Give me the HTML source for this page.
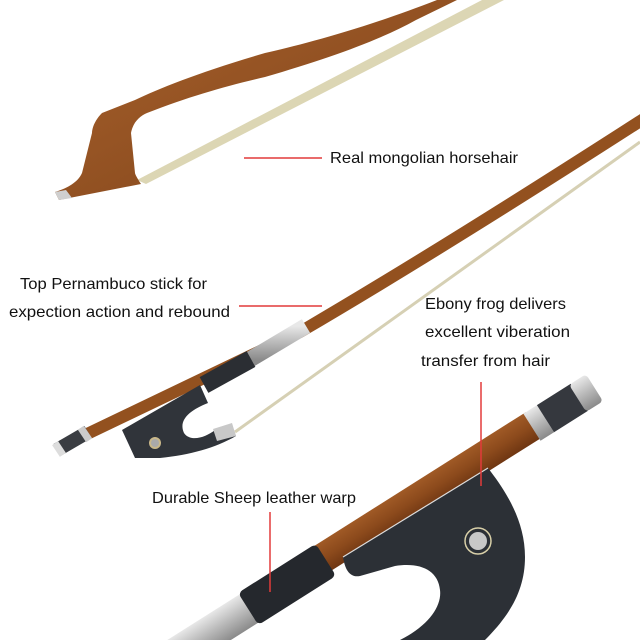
<!DOCTYPE html>
<html><head><meta charset="utf-8"><style>
html,body{margin:0;padding:0;background:#fff;width:640px;height:640px;overflow:hidden}
svg{display:block}
text{font-family:"Liberation Sans",sans-serif;font-size:16px;fill:#111}
</style></head><body>
<svg width="640" height="640" viewBox="0 0 640 640" xmlns="http://www.w3.org/2000/svg">
<defs>
<linearGradient id="wood" x1="0" y1="0" x2="1" y2="1">
<stop offset="0" stop-color="#a8612c"/><stop offset="1" stop-color="#7d4219"/></linearGradient>
<linearGradient id="silv" x1="0" y1="0" x2="0" y2="1">
<stop offset="0" stop-color="#e8e8e8"/><stop offset="0.5" stop-color="#b8b8b8"/><stop offset="1" stop-color="#8a8a8a"/></linearGradient>
<linearGradient id="woodv" x1="0" y1="0" x2="0" y2="1">
<stop offset="0" stop-color="#a05a26"/><stop offset="0.5" stop-color="#8c4a1c"/><stop offset="1" stop-color="#6f3612"/></linearGradient>
</defs>

<!-- top bow hair -->
<polygon points="482,0 504,0 146,184 137,180" fill="#dcd6b4"/>
<!-- top bow stick + head -->
<path d="M437,0 C360,30 300,45 265,53 C200,72 160,88 135,100 L102,113 C95,120 92,128 92,133 L82,173 C78,182 68,188 55,192 L59,200 L141,184 C137,178 135,174 135,173 L131,133 C133,122 140,116 147,113 C190,96 230,85 265,77 C330,58 380,40 416,20 L457,0 Z" fill="url(#wood)"/>
<polygon points="55,192 59,200 72,198 66,190" fill="#cfcfcf"/>

<!-- middle bow hair -->
<line x1="640" y1="142" x2="235" y2="432" stroke="#d6d0b4" stroke-width="3"/>
<!-- middle stick -->
<path d="M645,118 Q440,250 300,332 L62,446" stroke="#93511f" stroke-width="12" fill="none"/>
<line x1="306" y1="326" x2="249" y2="360" stroke="url(#silv)" stroke-width="16"/>
<line x1="251" y1="359" x2="204" y2="385" stroke="#2b2e33" stroke-width="18"/>
<!-- middle frog -->
<path d="M122,430 L200,385 L208,403 C190,410 178,420 184,433 C190,442 205,438 215,430 L232,425 L236,436 C215,448 190,455 160,458 L135,458 Z" fill="#30343a"/>
<polygon points="213,429 232,423 236,436 217,441" fill="#c8c8c8"/>
<circle cx="155" cy="443" r="6" fill="#c9b88a"/><circle cx="155" cy="443" r="4" fill="#aaa"/>
<!-- middle button -->
<line x1="88" y1="432" x2="57" y2="450" stroke="#3a3d42" stroke-width="14"/>
<line x1="88" y1="432" x2="82" y2="436" stroke="#ccc" stroke-width="15"/>
<line x1="62" y1="447" x2="56" y2="451" stroke="#ddd" stroke-width="14"/>

<!-- bottom close-up -->
<g transform="translate(488,455) rotate(-32.3)">
<rect x="-420" y="-15" width="140" height="34" fill="url(#silv)"/>
<rect x="-200" y="-16" width="255" height="30" fill="url(#woodv)"/>
<rect x="-285" y="-17" width="92" height="38" rx="5" fill="#25282d"/>
<rect x="52" y="-16" width="16" height="32" fill="url(#silv)"/>
<rect x="68" y="-16" width="40" height="32" fill="#35383e"/>
<rect x="106" y="-16" width="20" height="32" rx="4" fill="url(#silv)"/>
</g>
<path d="M488,468 C505,490 525,520 525,557 C525,590 510,615 485,640 L400,640 C430,625 442,605 440,590 C438,570 420,562 395,566 L360,576 C350,578 345,570 343,557 Z" fill="#2c3036"/>
<line x1="488" y1="468" x2="343" y2="557" stroke="#ddd" stroke-width="1.2"/>
<circle cx="478" cy="541" r="13" fill="none" stroke="#d8cfa8" stroke-width="1.5"/>
<circle cx="478" cy="541" r="9" fill="#c8c8c8"/>

<!-- labels -->
<line x1="244" y1="158" x2="322" y2="158" stroke="#e23a3a" stroke-width="1.5"/>
<text x="330" y="163" textLength="188" lengthAdjust="spacingAndGlyphs">Real mongolian horsehair</text>
<text x="20" y="289" textLength="187" lengthAdjust="spacingAndGlyphs">Top Pernambuco stick for</text>
<text x="9" y="317" textLength="221" lengthAdjust="spacingAndGlyphs">expection action and rebound</text>
<line x1="239" y1="306" x2="322" y2="306" stroke="#e23a3a" stroke-width="1.5"/>
<text x="425" y="309" textLength="141" lengthAdjust="spacingAndGlyphs">Ebony frog delivers</text>
<text x="425" y="337" textLength="145" lengthAdjust="spacingAndGlyphs">excellent viberation</text>
<text x="421" y="366" textLength="129" lengthAdjust="spacingAndGlyphs">transfer from hair</text>
<line x1="481" y1="382" x2="481" y2="486" stroke="#e23a3a" stroke-width="1.5"/>
<text x="152" y="503" textLength="204" lengthAdjust="spacingAndGlyphs">Durable Sheep leather warp</text>
<line x1="270" y1="512" x2="270" y2="592" stroke="#e23a3a" stroke-width="1.5"/>
</svg>
</body></html>
